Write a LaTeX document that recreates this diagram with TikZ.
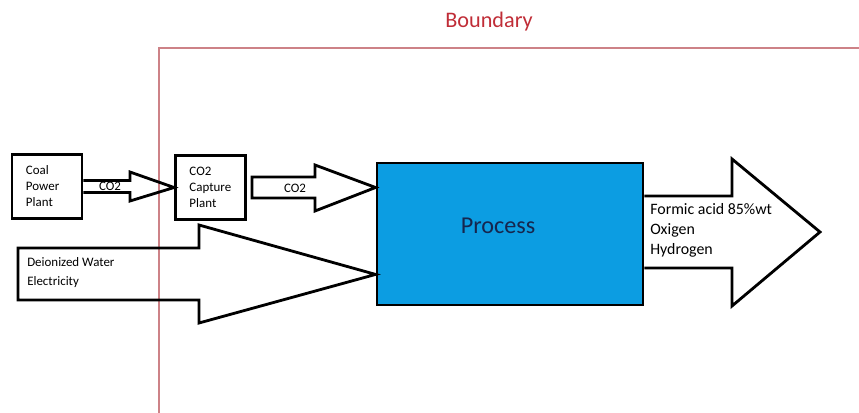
\documentclass[tikz,border=0pt]{standalone}
\usepackage{fontspec}
\setmainfont{Carlito}
\usepackage{tikz}
\usetikzlibrary{positioning}
\usetikzlibrary{calc}
\definecolor{boundred}{RGB}{192,45,55}
\definecolor{boundline}{RGB}{205,130,135}
\definecolor{procblue}{RGB}{12,157,226}
\definecolor{proctext}{RGB}{22,38,78}
\tikzset{
	plant/.style={draw,line width=2pt,text width=1.05cm,inner xsep=0.35cm,minimum height=1.6cm,align=left,font=\fontsize{9.2}{11.4}\selectfont},
	blockarrow/.style={draw,line width=2pt,line join=miter},
	smalltext/.style={inner sep=0pt,font=\fontsize{9.2}{11.4}\selectfont},
}

\begin{document}
\begin{tikzpicture}[x=0.025cm,y=-0.025cm]
	\useasboundingbox (0,0) rectangle (859,413);
	\node[text=boundred,font=\fontsize{15.8}{18}\selectfont] (boundary) at (489,22) {Boundary};
	\draw [boundline,line width=1pt] (159,413) -- (159,48) -- (859,48);
	\node[plant] (coal) at (47,186.5) {Coal\\Power\\Plant};
	\node[plant] (capture) at (210.5,187.5) {CO2\\Capture\\Plant};
	\node[draw,line width=2pt,fill=procblue,minimum width=6.65cm,minimum height=3.55cm] (process) at (510,234) {};
	\node[text=proctext,font=\fontsize{17.2}{20}\selectfont] (proclbl) at ($(process)+(-12,-8)$) {Process};
	\draw [blockarrow] ($(coal.east)+(0,-6)$) -- (130,180.5) -- (130,172) -- (capture.west) -- (130,201) -- (130,192.5) -- ($(coal.east)+(0,6)$);
	\node[smalltext] (co2a) at (110,186.5) {CO2};
	\draw [blockarrow] ($(capture.east)+(5,-10.5)$) -- (315,177) -- (315,165) -- (process.west |- capture.east) -- (315,211) -- (315,198) -- ($(capture.east)+(5,10.5)$) -- cycle;
	\node[smalltext] (co2b) at (295,188) {CO2};
	\draw [blockarrow] (18,248) -- (199,248) -- (199,225) -- ($(process.south west)+(0,-32)$) -- (199,323) -- (199,300) -- (18,300) -- cycle;
	\node[smalltext,anchor=west,align=left,font=\fontsize{9.2}{13.5}\selectfont] (inputs) at (27,272.5) {Deionized Water\\Electricity};
	\draw [blockarrow] ($(process.east)+(0,-38)$) -- (732,196) -- (732,159) -- (820,232) -- (732,306) -- (732,268) -- ($(process.east)+(0,34)$);
	\node[smalltext,anchor=west,align=left,font=\fontsize{11.3}{14.2}\selectfont] (products) at (650,230) {Formic acid 85\%wt\\Oxigen\\Hydrogen};
\end{tikzpicture}
\end{document}
